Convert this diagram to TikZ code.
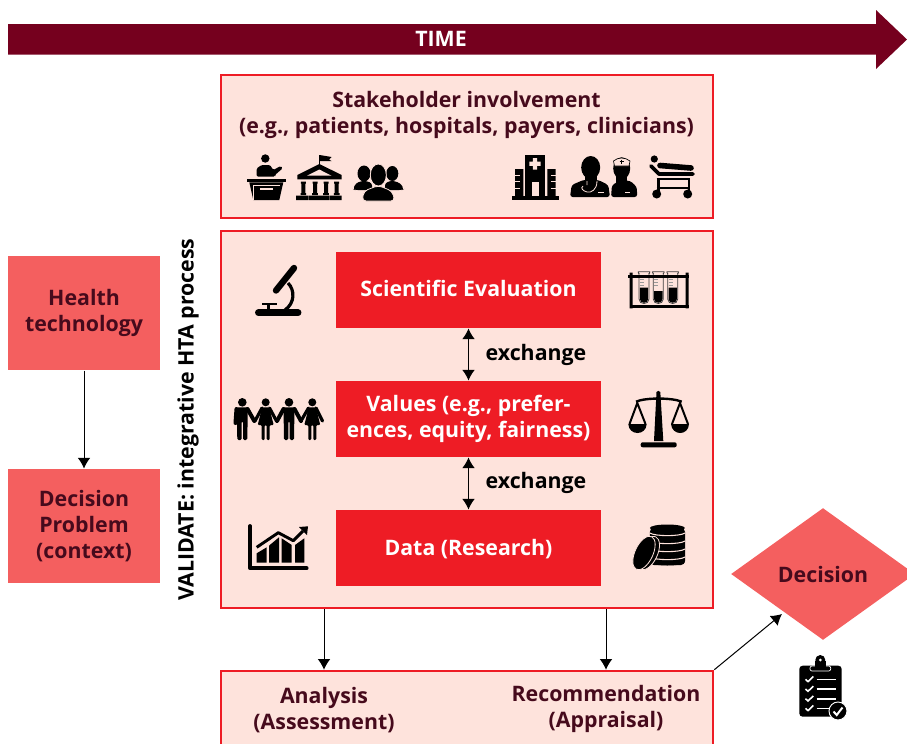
\documentclass[tikz,border=0pt]{standalone}
\usepackage{fontspec}
\setmainfont{Open Sans}
\usetikzlibrary{shapes.geometric,arrows.meta}
\definecolor{timecol}{HTML}{75001E}
\definecolor{boxred}{HTML}{EE1C25}
\definecolor{salmon}{HTML}{F45F5F}
\definecolor{pale}{HTML}{FEE3DC}
\definecolor{inkcol}{HTML}{460A1C}
\tikzset{
  txt/.style={font=\fontsize{16pt}{19.5pt}\selectfont\bfseries,align=center,inner sep=0pt},
  frame/.style={draw=boxred,line width=1.9pt,fill=pale,minimum width=369pt},
  redbox/.style={fill=boxred,text=white,txt,minimum width=198.75pt,minimum height=57pt},
  sidebox/.style={fill=salmon,text=inkcol,txt,minimum width=114pt,minimum height=85.5pt},
  cut/.style={draw=pale,line width=.6pt},
  bar/.style={line width=3pt,line cap=round},
}
\newcommand{\manfig}[1]{
  \begin{scope}[shift={(#1,402.3)}]
    \fill (0,0) circle (4.3);
    \fill[rounded corners=1pt] (-5.5,5) -- (5.5,5) -- (5,37.7) -- (.7,37.7) -- (.7,19) -- (-.7,19) -- (-.7,37.7) -- (-5,37.7) -- cycle;
  \end{scope}
}
\newcommand{\womanfig}[1]{
  \begin{scope}[shift={(#1,402.3)}]
    \fill (0,0) circle (4);
    \fill[rounded corners=.8pt] (-3.5,5) -- (3.5,5) -- (8,22.7) -- (4,22.7) -- (4,37.7) -- (1,37.7) -- (1,22.7) -- (-1,22.7) -- (-1,37.7) -- (-4,37.7) -- (-4,22.7) -- (-8,22.7) -- cycle;
  \end{scope}
}
\begin{document}
\begin{tikzpicture}[>={Latex[length=8pt,width=9.5pt]},x=.75pt,y=-.75pt,line width=.75pt]
  \useasboundingbox (0,0) rectangle (907,743);
  \fill[timecol] (8,24) -- (876,24) -- (876,10) -- (907,39.5) -- (876,69) -- (876,54.5) -- (8,54.5) -- cycle;
  \node[txt,text=white] (time) at (441,39) {TIME};

  \node[frame,minimum height=107.25pt] (stake) at (467,146.5) {};
  \node[frame,minimum height=282.75pt] (evalbox) at (467,419.5) {};
  \node[frame,minimum height=75pt] (bottom) at (467,721) {};
  \node[txt,text=inkcol] (staketext) at (466.5,115) {Stakeholder involvement\\(e.g., patients, hospitals, payers, clinicians)};

  \node[redbox,text depth=3pt] (scieval) at (468.5,290) {Scientific Evaluation};
  \node[redbox] (values) at (468.5,419) {Values (e.g., prefer-\\ences, equity, fairness)};
  \node[redbox,text depth=1pt] (data) at (468.5,548) {Data (Research)};
  \node[txt] (exch1) at (536,355) {exchange};
  \node[txt] (exch2) at (536,483) {exchange};
  \draw[<->] (scieval) -- (values);
  \draw[<->] (values) -- (data);

  \node[sidebox] (health) at (84,313) {Health\\technology};
  \node[sidebox] (problem) at (84,526) {Decision\\Problem\\(context)};
  \draw[->] (health) -- (problem);
  \node[txt,rotate=90] (validate) at (188,419.5) {VALIDATE: integrative HTA process};

  \node[txt,text=inkcol] (analysis) at (324,710) {Analysis\\(Assessment)};
  \node[txt,text=inkcol] (recomm) at (606,709) {Recommendation\\(Appraisal)};
  \draw[->] (evalbox.south -| analysis) -- (bottom.north -| analysis);
  \draw[->] (evalbox.south -| recomm) -- (bottom.north -| recomm);

  \node[diamond,fill=salmon,text=inkcol,txt,minimum width=138pt,minimum height=99pt,shape aspect=1.39] (decision) at (823,574) {Decision};
  \coordinate (decin) at (782,614);
  \draw[->] (bottom.north east) -- (decin);

  % speaker
  \fill (265.3,158.5) circle (4.2);
  \fill[rounded corners=1pt] (256.7,176.7) -- (256.7,168.3) -- (261.7,165) -- (270,165) -- (273.3,170) -- (280.7,166) -- (282.7,168.3) -- (275,175) -- (275,176.7) -- cycle;
  \fill (247.3,179.3) rectangle (285.7,182.3);
  \fill (249.3,182.3) -- (283.3,182.3) -- (279.3,200) -- (253.3,200) -- cycle;
  \draw[pale,line width=.5pt] (253,185) -- (280,185) (253,185) -- (253,200);
  \fill[pale] (260,188) rectangle (273,190);
  % bank
  \draw (319.3,155) -- (319.3,165);
  \fill (319.8,155) -- (331.5,157) -- (329,159.5) -- (331.5,161) -- (319.8,161) -- cycle;
  \fill (297.3,179.3) -- (297.3,175) -- (319.3,164) -- (341.7,175) -- (341.7,179.3) -- cycle;
  \fill[pale] (307,175.7) -- (319.3,169.5) -- (331.5,175.7) -- cycle;
  \foreach \colx in {303.3,315,326,336.7}
    \fill (\colx-2.5,181.5) rectangle (\colx+2.5,183.5) (\colx-2,183.5) rectangle (\colx+2,193) (\colx-2.8,193) rectangle (\colx+2.8,195);
  \fill (296,195.7) rectangle (308.5,200) (309,195.7) rectangle (329,200) (329.5,195.7) rectangle (341.7,200);
  % group
  \fill (364,173.5) ellipse (6.5 and 8) (392.3,173.5) ellipse (6 and 7.5);
  \fill[rounded corners=2pt] (353,189) -- (356,183) -- (364,180.5) -- (372,183) -- (372,190) -- (355,190) -- cycle;
  \fill[rounded corners=2pt] (404,189) -- (400,183) -- (392,180.5) -- (385,183) -- (385,190) -- (402,190) -- cycle;
  \filldraw[cut,fill=black] (378.3,175) ellipse (8 and 11);
  \filldraw[cut,fill=black,rounded corners=3pt] (362,201) -- (364,191) -- (378.3,185.5) -- (392,191) -- (395,201) -- cycle;
  % hospital
  \fill (512.3,196) rectangle (558.7,200);
  \fill (525.3,155) rectangle (545,196);
  \fill[pale] (531.7,181.7) rectangle (539,196);
  \fill[pale] (532.8,158) rectangle (537.2,169.5) (529.3,161.5) rectangle (540.7,165.8);
  \fill (515,169) rectangle (523.3,196) (547.3,169) rectangle (555.7,196);
  \foreach \stripey in {175,181.7,188.3}
    \draw[pale] (515,\stripey) -- (520,\stripey) (550.5,\stripey) -- (555.7,\stripey);
  % doctor and nurse
  \fill (590.7,167.5) ellipse (9.5 and 11.5);
  \fill (585,172) rectangle (596.5,183);
  \fill[rounded corners=2pt] (570,197) -- (571.7,185) -- (583.3,180) -- (598.3,180) -- (608.3,185) -- (610,197) -- cycle;
  \draw[pale,line width=.6pt] (597,181) .. controls (597,190) and (591,193) .. (587,192) .. controls (583,191) and (580,188) .. (583,186) (587,181) -- (587,185);
  \draw[pale,line width=.6pt] (598,192) -- (604,192);
  \fill (621.7,168.3) ellipse (8.5 and 11);
  \fill (616,172) rectangle (627,183);
  \fill[rounded corners=2pt] (611,197) -- (612,185) -- (620,180.7) -- (630,180.7) -- (636.7,186.7) -- (637.3,197) -- cycle;
  \filldraw[fill=pale,draw=black,line width=.5pt] (613.5,161) .. controls (618,157) and (625,157) .. (630,161) -- (629,166) -- (614.5,166) -- cycle;
  \draw[line width=.5pt] (619.5,161.5) -- (623.5,161.5) (621.5,159.5) -- (621.5,163.5);
  \draw[pale,line width=.6pt] (625,192) -- (630,192);
  % bed
  \fill (654.3,159) circle (3.6);
  \draw[line width=2.8pt,line cap=round,line join=round] (651,166) -- (659,174) -- (693,174);
  \draw[line width=4.2pt,line cap=round] (660,165.5) -- (691,168);
  \draw[line width=2.2pt] (656.7,179) -- (690,179) (656.7,188) -- (690,188) (658.5,178) -- (658.5,192) (689,178) -- (689,192);
  \fill (656.7,194) circle (4.5) (687.7,194) circle (4.5);

  % microscope
  \draw[line width=5.2pt,line cap=round] (258.5,312.7) -- (298,312.7);
  \fill (262.3,302.7) rectangle (276.7,305);
  \draw[line width=2pt] (268.3,304) -- (268.3,312);
  \draw[line width=4.8pt,line cap=round] (276,290.5) -- (294,268);
  \draw[line width=2.4pt] (288,283) .. controls (295,290) and (295,303) .. (285,310);
  % people
  \manfig{242.3} \womanfig{265.7} \manfig{289} \womanfig{312.3}
  \draw[bar] (236.5,409) -- (235.5,423);
  \draw[bar] (247.5,409) -- (254.3,421);
  \draw[bar,line width=2.4pt] (262,408) -- (255,421);
  \draw[bar,line width=2.4pt] (269.5,408) -- (276.5,421);
  \draw[bar] (283.5,409) -- (277,421);
  \draw[bar] (294.5,409) -- (301,421);
  \draw[bar,line width=2.4pt] (308.5,408) -- (301,421);
  \draw[bar,line width=2.4pt] (316,408) -- (322.5,421);
  % test tubes
  \foreach \tubex/\liqy in {644/287.7,658.3/291,672.7/287.7}{
    \fill (\tubex-4.2,\liqy) -- (\tubex+4.2,\liqy) -- (\tubex+4.2,299) .. controls (\tubex+4.2,304) and (\tubex-4.2,304) .. (\tubex-4.2,299) -- cycle;
    \draw[line width=.6pt,draw=black!75] (\tubex-5,273) -- (\tubex-5,299) .. controls (\tubex-5,305) and (\tubex+5,305) .. (\tubex+5,299) -- (\tubex+5,273);
    \draw[line width=.6pt,draw=black!75] (\tubex-6,271.7) -- (\tubex+6,271.7) (\tubex-6,271.7) -- (\tubex-5,274) (\tubex+6,271.7) -- (\tubex+5,274);
    \draw[line width=.5pt,draw=black!40] (\tubex-4,279) -- (\tubex,279) (\tubex-4,282) -- (\tubex,282) (\tubex-4,285) -- (\tubex,285);
  }
  \fill (628.3,275) rectangle (689,278.3);
  \fill (629.5,272.7) rectangle (632.5,308.3) (685.5,272.7) rectangle (688.5,308.3);
  \fill (629.5,305) rectangle (688.5,308.3);
  % scales
  \fill[rounded corners=1.5pt] (640.7,442.3) rectangle (676.7,447.3);
  \fill (656.5,392) .. controls (657,390.5) and (659.5,390.5) .. (660.3,392) -- (663.3,441) -- (654,441) -- cycle;
  \draw[line width=1.8pt] (636,401.7) .. controls (645,397.5) and (672,397.5) .. (681.7,401.7);
  \draw[line width=1.5pt] (629.5,424) -- (637.3,403) -- (645.5,424);
  \draw[line width=1.5pt] (672,424) -- (680,403) -- (688,424);
  \fill (628.3,424) .. controls (629,436) and (646,436) .. (646.7,424) -- cycle;
  \fill (671,424) .. controls (672,436) and (688.5,436) .. (689,424) -- cycle;
  % chart
  \draw[line width=2.8pt,line cap=round,line join=round] (250,526) -- (250,568.3) -- (306.7,568.3);
  \fill (256.7,553.3) -- (266.7,547.3) -- (266.7,562.7) -- (256.7,562.7) -- cycle;
  \fill (269,545.7) -- (279,537.3) -- (279,562.7) -- (269,562.7) -- cycle;
  \fill (281.7,538.3) -- (291.7,545) -- (291.7,562.7) -- (281.7,562.7) -- cycle;
  \fill (295,545) -- (304.3,538.3) -- (304.3,562.7) -- (295,562.7) -- cycle;
  \draw[line width=2.2pt,line join=round] (256.7,547.3) -- (278.3,532.7) -- (293.3,540.7) -- (303,531);
  \fill (299,527) -- (308,526.3) -- (307,535) -- cycle;
  % coins
  \fill[rounded corners=3pt] (649.8,528) rectangle (685,565);
  \fill (667.3,528) ellipse (17.5 and 3.5) (667.3,562) ellipse (17.5 and 3.5);
  \foreach \coiny in {533,541,549,557}
    \draw[pale,line width=.8pt] (649.8,\coiny) .. controls (655,\coiny+3.5) and (680,\coiny+3.5) .. (685,\coiny);
  \begin{scope}[shift={(648,553)},rotate=-25]
    \filldraw[cut,fill=black] (0,0) ellipse (9.5 and 18);
  \end{scope}
  \begin{scope}[shift={(644,553)},rotate=-25]
    \filldraw[cut,fill=black] (0,0) ellipse (9 and 18);
  \end{scope}
  % clipboard
  \fill[rounded corners=2.5pt] (799.3,665.7) rectangle (841.7,716.7);
  \fill (820.3,660) circle (5);
  \filldraw[draw=white,line width=.5pt,fill=black,rounded corners=1.5pt] (810,666) -- (814,666) -- (826.5,666) -- (830.7,666) -- (830.7,671) -- (810,671) -- cycle;
  \fill (815,661) rectangle (826,668);
  \fill[white] (820.3,660) circle (1.5);
  \foreach \chky in {679.3,689,698.7,708.3}{
    \draw[white,line width=1.2pt] (805.5,\chky) -- (808,\chky+2.3) -- (813.3,\chky-2.8);
    \draw[white,line width=1.2pt] (816.7,\chky) -- (836,\chky);
  }
  \filldraw[draw=white,fill=black,line width=.7pt] (838,711) circle (9);
  \draw[white,line width=1.5pt] (833.5,711.5) -- (836.7,715) -- (842.5,707.5);
\end{tikzpicture}
\end{document}
